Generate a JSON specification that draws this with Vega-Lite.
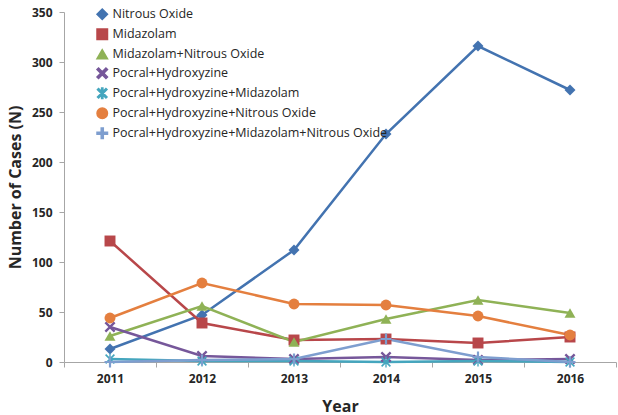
{
  "$schema": "https://vega.github.io/schema/vega-lite/v6.json",
  "width": 552,
  "height": 350,
  "autosize": {"type": "none"},
  "padding": {"left": 64, "top": 12, "right": 2, "bottom": 53},
  "background": "white",
  "config": {"view": {"stroke": null}, "font": "Open Sans"},
  "data": {"values": [
    {"year": "2011", "series": "Nitrous Oxide", "n": 13},
    {"year": "2012", "series": "Nitrous Oxide", "n": 47},
    {"year": "2013", "series": "Nitrous Oxide", "n": 112},
    {"year": "2014", "series": "Nitrous Oxide", "n": 228},
    {"year": "2015", "series": "Nitrous Oxide", "n": 316},
    {"year": "2016", "series": "Nitrous Oxide", "n": 272},
    {"year": "2011", "series": "Midazolam", "n": 121},
    {"year": "2012", "series": "Midazolam", "n": 39},
    {"year": "2013", "series": "Midazolam", "n": 22},
    {"year": "2014", "series": "Midazolam", "n": 23},
    {"year": "2015", "series": "Midazolam", "n": 19},
    {"year": "2016", "series": "Midazolam", "n": 25},
    {"year": "2011", "series": "Midazolam+Nitrous Oxide", "n": 26},
    {"year": "2012", "series": "Midazolam+Nitrous Oxide", "n": 56},
    {"year": "2013", "series": "Midazolam+Nitrous Oxide", "n": 20},
    {"year": "2014", "series": "Midazolam+Nitrous Oxide", "n": 43},
    {"year": "2015", "series": "Midazolam+Nitrous Oxide", "n": 62},
    {"year": "2016", "series": "Midazolam+Nitrous Oxide", "n": 49},
    {"year": "2011", "series": "Pocral+Hydroxyzine", "n": 35},
    {"year": "2012", "series": "Pocral+Hydroxyzine", "n": 6},
    {"year": "2013", "series": "Pocral+Hydroxyzine", "n": 3},
    {"year": "2014", "series": "Pocral+Hydroxyzine", "n": 5},
    {"year": "2015", "series": "Pocral+Hydroxyzine", "n": 2},
    {"year": "2016", "series": "Pocral+Hydroxyzine", "n": 3},
    {"year": "2011", "series": "Pocral+Hydroxyzine+Midazolam", "n": 3},
    {"year": "2012", "series": "Pocral+Hydroxyzine+Midazolam", "n": 1},
    {"year": "2013", "series": "Pocral+Hydroxyzine+Midazolam", "n": 1},
    {"year": "2014", "series": "Pocral+Hydroxyzine+Midazolam", "n": 0},
    {"year": "2015", "series": "Pocral+Hydroxyzine+Midazolam", "n": 1},
    {"year": "2016", "series": "Pocral+Hydroxyzine+Midazolam", "n": 0},
    {"year": "2011", "series": "Pocral+Hydroxyzine+Nitrous Oxide", "n": 44},
    {"year": "2012", "series": "Pocral+Hydroxyzine+Nitrous Oxide", "n": 79},
    {"year": "2013", "series": "Pocral+Hydroxyzine+Nitrous Oxide", "n": 58},
    {"year": "2014", "series": "Pocral+Hydroxyzine+Nitrous Oxide", "n": 57},
    {"year": "2015", "series": "Pocral+Hydroxyzine+Nitrous Oxide", "n": 46},
    {"year": "2016", "series": "Pocral+Hydroxyzine+Nitrous Oxide", "n": 27},
    {"year": "2011", "series": "Pocral+Hydroxyzine+Midazolam+Nitrous Oxide", "n": 0},
    {"year": "2012", "series": "Pocral+Hydroxyzine+Midazolam+Nitrous Oxide", "n": 2},
    {"year": "2013", "series": "Pocral+Hydroxyzine+Midazolam+Nitrous Oxide", "n": 3},
    {"year": "2014", "series": "Pocral+Hydroxyzine+Midazolam+Nitrous Oxide", "n": 23},
    {"year": "2015", "series": "Pocral+Hydroxyzine+Midazolam+Nitrous Oxide", "n": 5},
    {"year": "2016", "series": "Pocral+Hydroxyzine+Midazolam+Nitrous Oxide", "n": 0}
  ]},
  "encoding": {
    "x": {
      "field": "year", "type": "ordinal",
      "scale": {"type": "band", "paddingInner": 0, "paddingOuter": 0},
      "axis": {
        "title": "Year", "labelAngle": 0, "tickBand": "extent",
        "domainColor": "#A6A6A6", "tickColor": "#A6A6A6", "tickSize": 5,
        "labelFontSize": 12, "labelFontWeight": "bold", "labelColor": "#262626", "labelPadding": 6,
        "titleFontSize": 16, "titleFontWeight": "bold", "titleColor": "#262626", "titlePadding": 14
      }
    },
    "y": {
      "field": "n", "type": "quantitative",
      "scale": {"domain": [0, 350], "nice": false},
      "axis": {
        "title": "Number of Cases (N)", "values": [0, 50, 100, 150, 200, 250, 300, 350], "grid": false,
        "domainColor": "#A6A6A6", "tickColor": "#A6A6A6", "tickSize": 5,
        "labelFontSize": 12, "labelFontWeight": "bold", "labelColor": "#262626", "labelPadding": 7,
        "titleFontSize": 16, "titleFontWeight": "bold", "titleColor": "#262626", "titlePadding": 8
      }
    },
    "color": {
      "field": "series", "type": "nominal",
      "scale": {
        "domain": ["Nitrous Oxide", "Midazolam", "Midazolam+Nitrous Oxide", "Pocral+Hydroxyzine", "Pocral+Hydroxyzine+Midazolam", "Pocral+Hydroxyzine+Nitrous Oxide", "Pocral+Hydroxyzine+Midazolam+Nitrous Oxide"],
        "range": ["#4373B0", "#B8474A", "#8FB256", "#76579A", "#45A6BE", "#E47F3F", "#7E9ECF"]
      },
      "legend": {
        "title": null, "orient": "none", "legendX": 32, "legendY": -4,
        "labelFontSize": 12.5, "labelColor": "#262626", "rowPadding": 3, "symbolSize": 110, "labelOffset": 4, "labelLimit": 0
      }
    }
  },
  "layer": [
    {"mark": {"type": "line", "strokeWidth": 2.5}},
    {
      "mark": {"type": "point", "filled": true, "size": 120, "opacity": 1},
      "encoding": {
        "shape": {
          "field": "series", "type": "nominal",
          "scale": {
            "domain": ["Nitrous Oxide", "Midazolam", "Midazolam+Nitrous Oxide", "Pocral+Hydroxyzine", "Pocral+Hydroxyzine+Midazolam", "Pocral+Hydroxyzine+Nitrous Oxide", "Pocral+Hydroxyzine+Midazolam+Nitrous Oxide"],
            "range": [
              "diamond",
              "square",
              "triangle-up",
              "M-1,-0.7L-0.7,-1L0,-0.3L0.7,-1L1,-0.7L0.3,0L1,0.7L0.7,1L0,0.3L-0.7,1L-1,0.7L-0.3,0Z",
              "M-0.906,-0.694L0.694,0.906L0.906,0.694L-0.694,-0.906Z M-0.694,0.906L0.906,-0.694L0.694,-0.906L-0.906,0.694Z M-0.12,-1V1H0.12V-1Z",
              "circle",
              "M-1,-0.2H-0.2V-1H0.2V-0.2H1V0.2H0.2V1H-0.2V0.2H-1Z"
            ]
          },
          "legend": {
            "title": null, "orient": "none", "legendX": 32, "legendY": -4,
            "labelFontSize": 12.5, "labelColor": "#262626", "rowPadding": 3, "symbolSize": 110, "labelOffset": 4, "labelLimit": 0
          }
        }
      }
    }
  ]
}
